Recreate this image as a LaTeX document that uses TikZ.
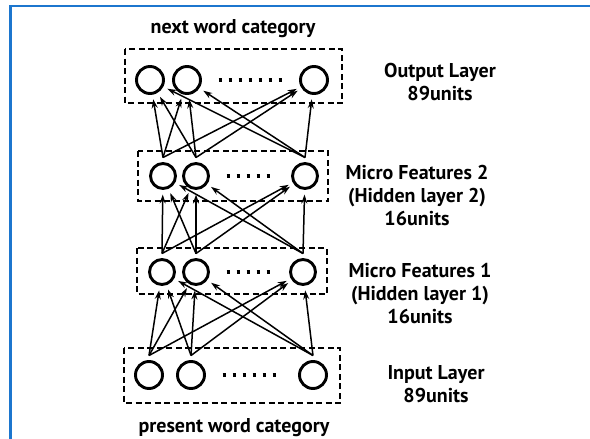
\documentclass[tikz,border=0pt]{standalone}
\usepackage{fontspec}
\setmainfont{PT Sans}
\usetikzlibrary{arrows.meta}
\definecolor{framecol}{RGB}{28,118,206}
\newcommand{\unitrow}[6]
{   \node[unit,minimum size=#6] (#1a) at (#2,#5) {};
    \node[unit,minimum size=#6] (#1b) at (#3,#5) {};
    \node[unit,minimum size=#6] (#1c) at (#4,#5) {};
    \draw[dotrow] (#1b) -- (#1c);
}
\newcommand{\fullconnect}[2]
{   \foreach \s in {a,b,c}
    {   \foreach \t in {a,b,c}
        {   \draw[link] (#1\s.north) -- (#2\t);
        }
    }
}

\begin{document}
\begin{tikzpicture}[x=1pt,y=-1pt,
  unit/.style={circle,draw,line width=2.9pt,inner sep=0pt,outer sep=6pt},
  dotrow/.style={line width=3.6pt,dash pattern=on 3.6pt off 6.4pt,shorten <=12pt,shorten >=12pt},
  layerbox/.style={line width=1.8pt,dash pattern=on 6pt off 3.5pt},
  link/.style={line width=1.5pt,-{Stealth[length=9pt,width=6pt]}},
  lbl/.style={font=\fontsize{20}{23}\selectfont\bfseries,align=center,inner sep=0pt}]
 \useasboundingbox (0,0) rectangle (590,439);
 \draw[framecol,line width=2.6pt] (10.3,439) -- (10.3,6) -- (590,6);

 \unitrow{o}{150}{187}{314}{80}{27pt}
 \unitrow{p}{163}{196}{305}{176}{25pt}
 \unitrow{q}{162}{196}{303}{272}{25pt}
 \unitrow{i}{149}{191}{313}{375}{27pt}

   \draw[layerbox] (125,49) rectangle (342,103);
   \draw[layerbox] (138,151) rectangle (328,201);
   \draw[layerbox] (137,248) rectangle (327,294);
   \draw[layerbox] (124,348) rectangle (340,403);

 \fullconnect{i}{q}
 \fullconnect{q}{p}
 \fullconnect{p}{o}

   \node[lbl] (nextlbl) at (233,29) {next word category};
   \node[lbl] (presentlbl) at (234,428) {present word category};
   \node[lbl] (outlbl) at (440,82) {Output Layer\\89units};
   \node[lbl] (mf2lbl) at (417,195) {Micro Features 2\\(Hidden layer 2)\\16units};
   \node[lbl] (mf1lbl) at (420,294) {Micro Features 1\\(Hidden layer 1)\\16units};
   \node[lbl] (inlbl) at (436,384) {Input Layer\\89units};

\end{tikzpicture}
\end{document}
